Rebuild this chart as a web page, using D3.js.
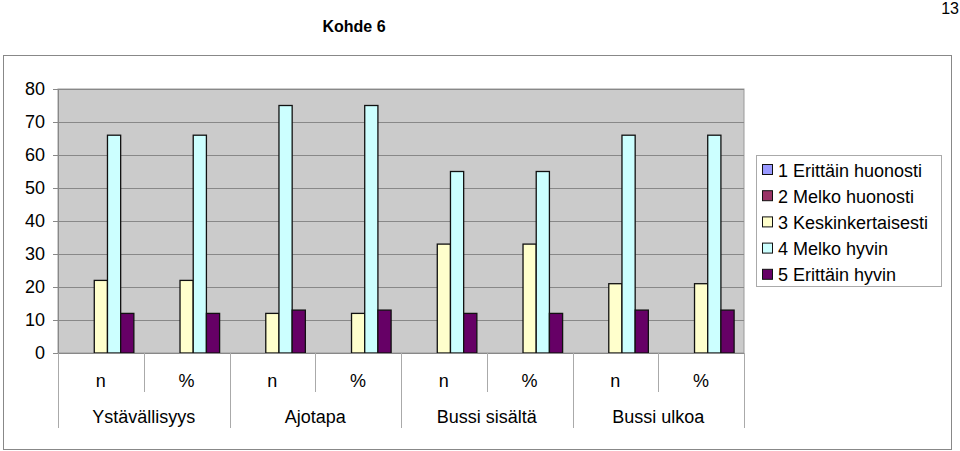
<!DOCTYPE html>
<html><head><meta charset="utf-8">
<script src="https://cdn.jsdelivr.net/npm/d3@7"></script>
<style>body{margin:0;background:#fff}svg{display:block;font-family:"Liberation Sans",Arial,sans-serif}</style>
</head><body><svg id="c" width="960" height="451"></svg>
<script>
const groups = ["Ystävällisyys","Ajotapa","Bussi sisältä","Bussi ulkoa"];
const subLabels = ["n","%"];
const seriesNames = ["1 Erittäin huonosti","2 Melko huonosti","3 Keskinkertaisesti","4 Melko hyvin","5 Erittäin hyvin"];
const seriesColors = ["#9999FF","#993366","#FFFFCC","#CCFFFF","#660066"];
const s1 = [0,0,0,0,0,0,0,0];
const s2 = [0,0,0,0,0,0,0,0];
const s3 = [22,22,12,12,33,33,21,21];
const s4 = [66,66,75,75,55,55,66,66];
const s5 = [12,12,13,13,12,12,13,13];
const yTicks = [0,10,20,30,40,50,60,70,80];
const seriesValues = [s1,s2,s3,s4,s5];

const svg = d3.select("#c");
const L=58,R=744,T=89,B=353;
const FS=18;
const cats = d3.range(groups.length*subLabels.length);
const x = d3.scaleBand().domain(cats).range([L,R]).paddingInner(0).paddingOuter(0);
const bw = x.bandwidth()/6.5;
const xs = d3.scaleBand().domain(d3.range(5)).range([0.75*bw, 5.75*bw]);
const y = d3.scaleLinear().domain([0,80]).range([B,T]);

svg.append("rect").attr("x",3.5).attr("y",55.5).attr("width",948).attr("height",394).attr("fill","#fff").attr("stroke","#888");
svg.append("text").attr("x",354).attr("y",32).attr("text-anchor","middle").attr("font-weight","bold").attr("font-size",16).text("Kohde 6");
svg.append("text").attr("x",959).attr("y",14).attr("text-anchor","end").attr("font-size",16).text("13");

svg.append("rect").attr("x",L).attr("y",T).attr("width",R-L).attr("height",B-T).attr("fill","#CBCBCB").attr("stroke","#999");
svg.append("g").selectAll("line").data(yTicks.slice(1)).join("line")
  .attr("x1",L).attr("x2",R).attr("y1",d=>y(d)+0.5).attr("y2",d=>y(d)+0.5).attr("stroke","#888");

const ya = svg.append("g").attr("transform",`translate(${L},0)`)
  .call(d3.axisLeft(y).tickValues(yTicks).tickSize(5).tickPadding(8).tickFormat(d3.format("d")));
ya.select(".domain").attr("stroke","#888");
ya.selectAll(".tick line").attr("stroke","#888");
ya.selectAll("text").attr("font-size",FS).attr("fill","#000").attr("font-family","Liberation Sans, Arial, sans-serif");

seriesValues.forEach((vals,si)=>{
  svg.append("g").selectAll("rect").data(vals.map((v,i)=>({v,i}))).join("rect")
    .attr("x",d=>x(d.i)+xs(si)).attr("width",xs.bandwidth())
    .attr("y",d=>y(d.v)).attr("height",d=>B-y(d.v))
    .attr("fill",seriesColors[si]).attr("stroke","#111").attr("stroke-width",1.3)
    .attr("display",d=>d.v>0?null:"none");
});

svg.append("line").attr("x1",L).attr("x2",R).attr("y1",B+0.5).attr("y2",B+0.5).attr("stroke","#888");

const cat = svg.append("g");
cats.forEach(i=>{
  cat.append("text").attr("x",x(i)+x.bandwidth()/2).attr("y",387).attr("text-anchor","middle").attr("font-size",FS).text(subLabels[i%2]);
});
d3.range(cats.length+1).forEach(i=>{
  const xx = Math.round(L+i*x.bandwidth())+0.5;
  const isGroup = i%2===0;
  cat.append("line").attr("x1",xx).attr("x2",xx).attr("y1",B).attr("y2",isGroup?428:392).attr("stroke","#aaa");
});
groups.forEach((g,gi)=>{
  cat.append("text").attr("x",x(gi*2)+x.bandwidth()).attr("y",423).attr("text-anchor","middle").attr("font-size",FS).text(g);
});

const lg = svg.append("g");
lg.append("rect").attr("x",756.5).attr("y",155.5).attr("width",185).attr("height",131).attr("fill","#fff").attr("stroke","#aaa");
seriesNames.forEach((n,i)=>{
  const cy = 170+i*26.2;
  lg.append("rect").attr("x",762.5).attr("y",cy-5.5).attr("width",10).attr("height",10).attr("fill",seriesColors[i]).attr("stroke","#111");
  lg.append("text").attr("x",778).attr("y",cy+6.5).attr("font-size",FS).text(n);
});
</script></body></html>
